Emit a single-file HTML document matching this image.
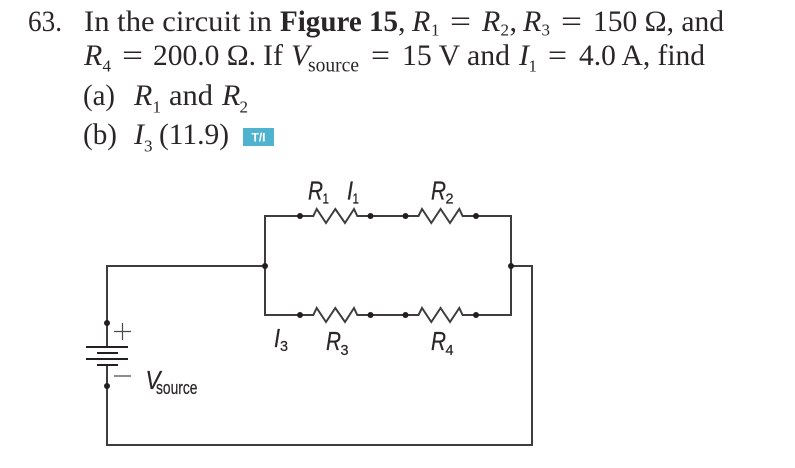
<!DOCTYPE html>
<html><head><meta charset="utf-8"><style>
html,body{margin:0;padding:0;background:#fff}
svg{display:block}
.t{font-family:"Liberation Serif",serif;font-size:30px;fill:#2a2627}
.i{font-style:italic}
.s{font-size:17px}
.h{font-family:"Liberation Sans",sans-serif;fill:#2a2627;stroke:#2a2627;stroke-width:.25px}
.l{font-size:25.5px;font-style:italic}
.n{font-size:15px}
</style></head><body>
<svg width="795" height="468" viewBox="0 0 795 468" xmlns="http://www.w3.org/2000/svg">
<rect width="795" height="468" fill="#fff"/>
<g class="t">
<text class="t" x="28" y="31" textLength="34" lengthAdjust="spacingAndGlyphs">63.</text>
<text class="t" x="84" y="31" textLength="188" lengthAdjust="spacingAndGlyphs">In the circuit in</text>
<text class="t" x="280" y="31" textLength="118" lengthAdjust="spacingAndGlyphs" font-weight="bold">Figure 15</text>
<text class="t" x="398" y="31">,</text>
<text class="t i" x="412" y="31">R</text><text class="t s" x="431" y="35.500">1</text>
<text class="t" x="450" y="31" textLength="21" lengthAdjust="spacingAndGlyphs">=</text>
<text class="t i" x="482" y="31">R</text><text class="t s" x="500.500" y="35.500">2</text><text class="t" x="509.500" y="31">,</text>
<text class="t i" x="523" y="31">R</text><text class="t s" x="541.500" y="35.500">3</text>
<text class="t" x="561" y="31" textLength="21" lengthAdjust="spacingAndGlyphs">=</text>
<text class="t" x="593" y="31" textLength="131" lengthAdjust="spacingAndGlyphs">150 Ω, and</text>

<text class="t i" x="84" y="65">R</text><text class="t s" x="102.500" y="71.500">4</text>
<text class="t" x="122" y="65" textLength="21" lengthAdjust="spacingAndGlyphs">=</text>
<text class="t" x="153" y="65" textLength="103" lengthAdjust="spacingAndGlyphs">200.0 Ω.</text>
<text class="t" x="263" y="65">If</text>
<text class="t i" x="291" y="65">V</text>
<text class="t" x="308" y="71.500" style="font-size:20px" textLength="51" lengthAdjust="spacingAndGlyphs">source</text>
<text class="t" x="371" y="65" textLength="19" lengthAdjust="spacingAndGlyphs">=</text>
<text class="t" x="402" y="65" textLength="108" lengthAdjust="spacingAndGlyphs">15 V and</text>
<text class="t i" x="519" y="65">I</text><text class="t s" x="528.500" y="71.500">1</text>
<text class="t" x="548" y="65" textLength="19" lengthAdjust="spacingAndGlyphs">=</text>
<text class="t" x="579" y="65" textLength="126" lengthAdjust="spacingAndGlyphs">4.0 A, find</text>

<text class="t" x="83" y="105" textLength="32" lengthAdjust="spacingAndGlyphs">(a)</text>
<text class="t i" x="134" y="105">R</text><text class="t s" x="152.500" y="112.500">1</text>
<text class="t" x="169" y="105" textLength="44" lengthAdjust="spacingAndGlyphs">and</text>
<text class="t i" x="222" y="105">R</text><text class="t s" x="239.500" y="112.500">2</text>

<text class="t" x="83" y="144" textLength="34" lengthAdjust="spacingAndGlyphs">(b)</text>
<text class="t i" x="134" y="144">I</text><text class="t s" x="144" y="151.500">3</text>
<text class="t" x="159" y="144" textLength="70" lengthAdjust="spacingAndGlyphs">(11.9)</text>
</g>
<rect x="243" y="128" width="31" height="18" fill="#4fb3d0"/>
<text x="258.500" y="141.500" text-anchor="middle" font-family="Liberation Sans, sans-serif" font-weight="bold" font-size="12" fill="#fff">T/I</text>

<g fill="none" stroke="#3f3c3d" stroke-width="2">
<path d="M107 323V266H265V216H313.300L316.700 209L326 223L335.300 209L345 223L354 209L357.300 216H418.500L422 209L431.300 223L440.600 209L450 223L459.300 209L462.600 216H511V315H476H462.600L459.300 308L450 322L440.600 308L431.300 322L422 308L418.500 315H357.300L354 308L345 322L335.300 308L326 322L316.700 308L313.300 315H265V266"/>
<path d="M511 266H532V445H107V386"/>
<path d="M107 323V347M107 365V386"/>
</g>
<g stroke="#231f20" fill="none">
<path d="M86 347H128M86 359H128M97 353H118M97 365H118" stroke-width="2"/>
</g>
<g stroke="#4a4a4c" fill="none" stroke-width="1.200">
<path d="M114 331.500H131M122.500 323V340M114 376H131"/>
</g>
<g fill="#231f20">
<circle cx="265" cy="266" r="3"/><circle cx="511" cy="266" r="3"/>
<circle cx="300" cy="216" r="3"/><circle cx="370.500" cy="216" r="3"/><circle cx="405.500" cy="216" r="3"/><circle cx="476" cy="216" r="3"/>
<circle cx="300" cy="315" r="3"/><circle cx="370.500" cy="315" r="3"/><circle cx="405.500" cy="315" r="3"/><circle cx="476" cy="315" r="3"/>
<circle cx="107" cy="323" r="3"/><circle cx="107" cy="386" r="3"/>
</g>
<g>
<text class="h l" x="308" y="199.500" textLength="15" lengthAdjust="spacingAndGlyphs">R</text><text class="h n" x="322.500" y="203.500" textLength="6.500" lengthAdjust="spacingAndGlyphs">1</text>
<text class="h l" x="347" y="199.500" textLength="6" lengthAdjust="spacingAndGlyphs">I</text><text class="h n" x="352.500" y="203.500" textLength="6.500" lengthAdjust="spacingAndGlyphs">1</text>
<text class="h l" x="431" y="199.500" textLength="15" lengthAdjust="spacingAndGlyphs">R</text><text class="h n" x="445.500" y="203.500" textLength="8" lengthAdjust="spacingAndGlyphs">2</text>
<text class="h l" x="274" y="347" textLength="6" lengthAdjust="spacingAndGlyphs">I</text><text class="h n" x="280" y="351" textLength="8" lengthAdjust="spacingAndGlyphs">3</text>
<text class="h l" x="326" y="350" textLength="15" lengthAdjust="spacingAndGlyphs">R</text><text class="h n" x="340.500" y="355" textLength="8" lengthAdjust="spacingAndGlyphs">3</text>
<text class="h l" x="431" y="350" textLength="15" lengthAdjust="spacingAndGlyphs">R</text><text class="h n" x="445.500" y="355" textLength="8" lengthAdjust="spacingAndGlyphs">4</text>
<text class="h l" x="145.500" y="389" textLength="15" lengthAdjust="spacingAndGlyphs">V</text>
<text class="h" x="156" y="394" style="font-size:18px" textLength="41.500" lengthAdjust="spacingAndGlyphs">source</text>
</g>
</svg>
</body></html>
